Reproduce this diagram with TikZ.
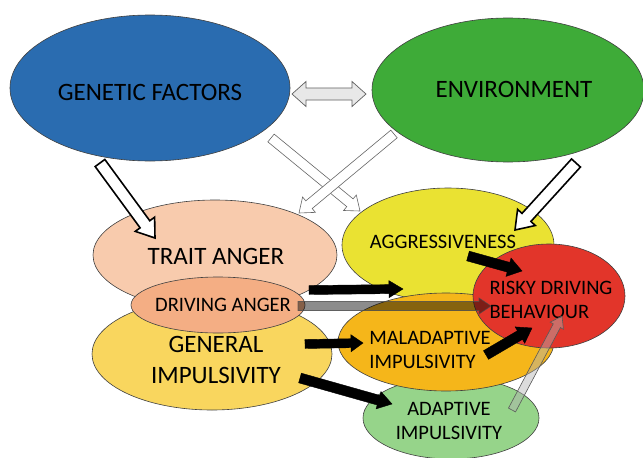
\documentclass[tikz,border=0pt]{standalone}
\usepackage{fontspec}
\setmainfont{Carlito}
\usetikzlibrary{shapes.geometric,calc}
\definecolor{cgen}{HTML}{2A6CB0}
\definecolor{cenv}{HTML}{3EAB38}
\definecolor{ctrait}{HTML}{F8CBAD}
\definecolor{cdrive}{HTML}{F4AE84}
\definecolor{cgeneral}{HTML}{F9D65E}
\definecolor{caggr}{HTML}{EAE232}
\definecolor{cmal}{HTML}{F5B61A}
\definecolor{cadapt}{HTML}{96D48A}
\definecolor{crisky}{HTML}{E2352A}
\definecolor{cline}{HTML}{404040}
\newcommand{\blockarrow}[6]{%
  \coordinate (bah) at ($(#3)!#6!(#2)$);
  \path[#1] ($(#2)!#4!90:(#3)$) -- ($(bah)!#4!90:(#3)$) -- ($(bah)!#5!90:(#3)$) -- (#3)
    -- ($(bah)!#5!-90:(#3)$) -- ($(bah)!#4!-90:(#3)$) -- ($(#2)!#4!-90:(#3)$) -- cycle;}
\newcommand{\dblarrow}[6]{%
  \coordinate (bah) at ($(#3)!#6!(#2)$);
  \coordinate (bat) at ($(#2)!#6!(#3)$);
  \path[#1] (#2) -- ($(bat)!#5!90:(#3)$) -- ($(bat)!#4!90:(#3)$) -- ($(bah)!#4!90:(#3)$)
    -- ($(bah)!#5!90:(#3)$) -- (#3) -- ($(bah)!#5!-90:(#3)$) -- ($(bah)!#4!-90:(#3)$)
    -- ($(bat)!#4!-90:(#3)$) -- ($(bat)!#5!-90:(#3)$) -- cycle;}
\begin{document}
\begin{tikzpicture}[x=1pt,y=-1pt,
  ell/.style={ellipse,draw=cline,line width=0.6pt,inner sep=0pt},
  big/.style={font=\fontsize{25}{31}\selectfont,align=center,text=black},
  small/.style={font=\fontsize{20.5}{24.5}\selectfont,align=center,text=black},
  smallL/.style={font=\fontsize{20.5}{24.5}\selectfont,align=left,text=black},
  whitearrow/.style={fill=white,draw=black,line width=1.6pt,line join=miter},
  crossarrow/.style={fill=white,draw=gray!80!black,line width=0.6pt},
  blackarrow/.style={fill=black,draw=black,line width=0.4pt},
  dblstyle/.style={fill=gray!18,draw=gray!75!black,line width=0.7pt},
  grayarrow/.style={fill=black,fill opacity=0.45,draw=black!70,draw opacity=0.8,line width=0.6pt},
  lightarrow/.style={fill=gray!60,fill opacity=0.45,draw=gray!70!black,line width=0.6pt}]
\useasboundingbox[fill=white] (0,0) rectangle (643,458);

% top ellipses
\node[ell,fill=cgen,minimum width=280pt,minimum height=146pt] (gen) at (150,88) {};
\node[big] (genT) at (150,92) {GENETIC FACTORS};
\node[ell,fill=cenv,minimum width=272pt,minimum height=144pt] (env) at (508,90) {};
\node[big] (envT) at (514,89) {ENVIRONMENT};

% left cluster
\node[ell,fill=ctrait,minimum width=244pt,minimum height=110pt] (trait) at (215,255) {};
\node[ell,fill=cgeneral,minimum width=240pt,minimum height=112pt] (general) at (212,354) {};
\node[ell,fill=cdrive,minimum width=174pt,minimum height=56pt] (drive) at (218,305) {};
\node[big] (traitT) at (216,256) {TRAIT ANGER};
\node[big] (generalT) at (216,360) {GENERAL\\IMPULSIVITY};
\node[small] (driveT) at (223,305) {DRIVING ANGER};

% right cluster
\node[ell,fill=caggr,minimum width=212pt,minimum height=114pt] (aggr) at (448,245) {};
\node[ell,fill=cadapt,minimum width=176pt,minimum height=82pt] (adapt) at (451,418) {};
\node[ell,fill=cmal,minimum width=216pt,minimum height=98pt] (mal) at (446,342) {};
\node[ell,fill=crisky,minimum width=152pt,minimum height=104pt] (risky) at (549,296) {};
\node[small] (aggrT) at (443,242) {AGGRESSIVENESS};
\node[smallL] (malT) at (430,350) {MALADAPTIVE\\IMPULSIVITY};
\node[small] (adaptT) at (449,421) {ADAPTIVE\\IMPULSIVITY};
\node[smallL] (riskyT) at (551,300) {RISKY DRIVING\\BEHAVIOUR};

% connector end points
\coordinate (dA) at (292,94);   \coordinate (dB) at (366,94);
\coordinate (g1) at (100,163);  \coordinate (g2) at (155,238);
\coordinate (e1) at (576,163);  \coordinate (e2) at (515,230);
\coordinate (c1) at (271,138);  \coordinate (c2) at (360,211);
\coordinate (c3) at (394,134);  \coordinate (c4) at (299,213);
\coordinate (a1) at (309,290);  \coordinate (a2) at (403,289);
\coordinate (h1) at (298,306);  \coordinate (h2) at (491,306);
\coordinate (m1) at (305,344);  \coordinate (m2) at (363,343);
\coordinate (p1) at (300,378);  \coordinate (p2) at (392,404);
\coordinate (r1) at (468,256);  \coordinate (r2) at (522,271);
\coordinate (s1) at (486,355);  \coordinate (s2) at (532,328);
\coordinate (t1) at (512,410);  \coordinate (t2) at (562,316);

% arrows
\dblarrow{dblstyle}{dA}{dB}{6pt}{12.5pt}{14pt}
\blockarrow{crossarrow}{c1}{c2}{5pt}{10pt}{13pt}
\blockarrow{crossarrow}{c3}{c4}{5pt}{10pt}{13pt}
\blockarrow{whitearrow}{g1}{g2}{6pt}{12pt}{17pt}
\blockarrow{whitearrow}{e1}{e2}{6pt}{12pt}{17pt}
\blockarrow{blackarrow}{a1}{a2}{4.5pt}{8.5pt}{14pt}
\blockarrow{grayarrow}{h1}{h2}{4.5pt}{8pt}{12pt}
\blockarrow{blackarrow}{m1}{m2}{4.5pt}{8.5pt}{12pt}
\blockarrow{blackarrow}{p1}{p2}{5pt}{9pt}{14pt}
\blockarrow{blackarrow}{r1}{r2}{5pt}{9.5pt}{14pt}
\blockarrow{blackarrow}{s1}{s2}{5pt}{9.5pt}{14pt}
\blockarrow{lightarrow}{t1}{t2}{4pt}{7.5pt}{11pt}
\end{tikzpicture}
\end{document}
